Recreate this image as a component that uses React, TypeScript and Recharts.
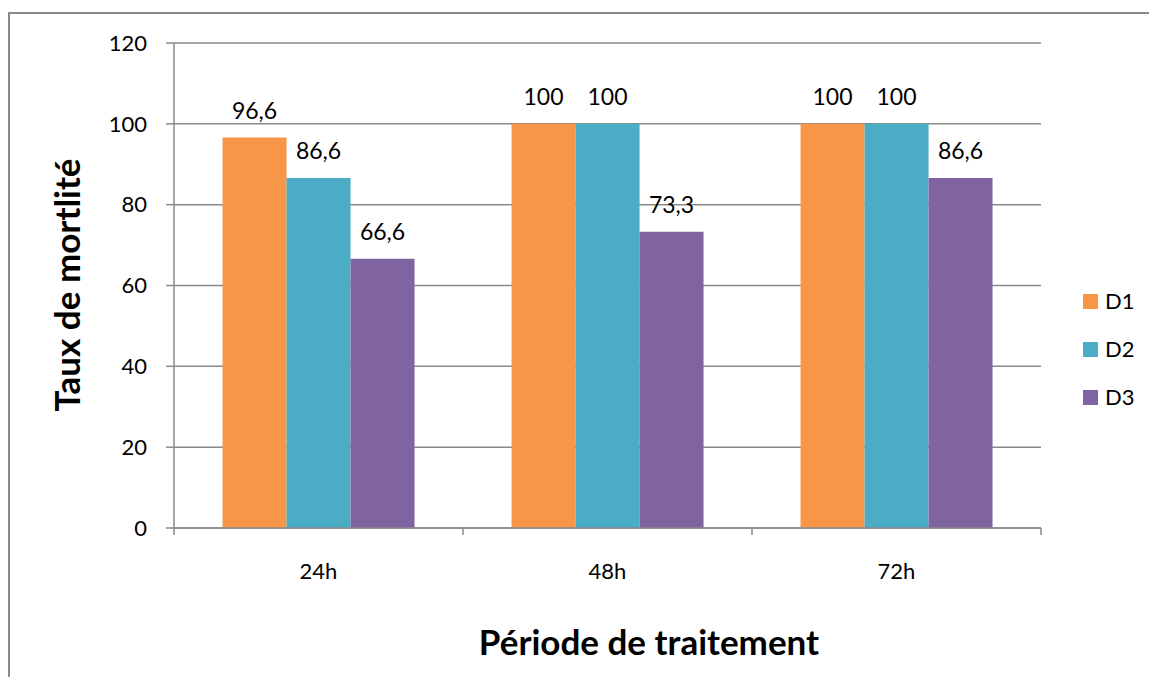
import React from 'react';
import { BarChart, Bar, XAxis, YAxis, CartesianGrid, Legend, LabelList, Label } from 'recharts';

// Treatment periods and mortality rate (%) per dose
const periods = ['24h', '48h', '72h'];
const d1Values = [96.6, 100, 100];
const d2Values = [86.6, 100, 100];
const d3Values = [66.6, 73.3, 86.6];
const yTicks = [0, 20, 40, 60, 80, 100, 120];

const seriesKeys = ['D1', 'D2', 'D3'];
const seriesColors = ['#F79646', '#4BACC6', '#8064A2'];

const data = periods.map((period, i) => ({
  period,
  D1: d1Values[i],
  D2: d2Values[i],
  D3: d3Values[i],
}));

const FONT = "Lato, 'Open Sans', sans-serif";
const AXIS_GRAY = '#8a8a8a';
const X_TICK_MARGIN = 34;

const formatValue = (v: any) => String(v).replace('.', ',');

// Category tick: label centred under the group, tick marks on the group boundaries
function CategoryTick(props: any) {
  const { x, y, payload, width, visibleTicksCount, index } = props;
  const count = visibleTicksCount || periods.length;
  const half = typeof width === 'number' ? width / count / 2 : 0;
  const axisY = y - X_TICK_MARGIN;
  return (
    <g>
      <line x1={x - half} x2={x - half} y1={axisY} y2={axisY + 7} stroke={AXIS_GRAY} strokeWidth={1.5} />
      {index === count - 1 && (
        <line x1={x + half} x2={x + half} y1={axisY} y2={axisY + 7} stroke={AXIS_GRAY} strokeWidth={1.5} />
      )}
      <text x={x} y={axisY + 51} textAnchor="middle" fontSize={22} fontFamily={FONT} fill="#000">
        {payload.value}
      </text>
    </g>
  );
}

function LegendContent(props: any) {
  const items = props.payload || [];
  return (
    <div style={{ fontFamily: FONT }}>
      {items.map((item: any) => (
        <div key={item.value} style={{ display: 'flex', alignItems: 'center', height: 48 }}>
          <span style={{ display: 'inline-block', width: 15, height: 15, background: item.color, marginRight: 7 }} />
          <span style={{ fontSize: 22, lineHeight: '22px', color: '#000' }}>{item.value}</span>
        </div>
      ))}
    </div>
  );
}

export default function App() {
  return (
    <div
      style={{
        position: 'fixed',
        left: 0,
        top: 0,
        width: 1149,
        height: 677,
        overflow: 'hidden',
        background: '#fff',
        fontFamily: FONT,
      }}
    >
      <div
        style={{
          position: 'absolute',
          left: 8,
          top: 12,
          width: 1200,
          height: 720,
          border: `2px solid ${AXIS_GRAY}`,
        }}
      />
      <div style={{ position: 'absolute', left: 0, top: 0 }}>
        <BarChart
          width={1149}
          height={677}
          data={data}
          margin={{ top: 43, right: 108, bottom: 0, left: 0 }}
          barCategoryGap="16.8%"
          barGap={0}
        >
          <CartesianGrid horizontal vertical={false} stroke={AXIS_GRAY} strokeWidth={1.5} />
          <XAxis
            dataKey="period"
            height={149}
            axisLine={{ stroke: AXIS_GRAY, strokeWidth: 1.5 }}
            tickLine={false}
            tickSize={0}
            tickMargin={X_TICK_MARGIN}
            tick={<CategoryTick />}
            interval={0}
          >
            <Label
              content={() => (
                <text x={649} y={655} textAnchor="middle" fontSize={35} fontWeight="bold" fontFamily={FONT} fill="#000">
                  Période de traitement
                </text>
              )}
            />
          </XAxis>
          <YAxis
            width={174}
            domain={[0, 120]}
            ticks={yTicks}
            interval={0}
            axisLine={{ stroke: AXIS_GRAY, strokeWidth: 1.5 }}
            tickLine={{ stroke: AXIS_GRAY, strokeWidth: 1.5 }}
            tickSize={8}
            tickMargin={19}
            tick={{ fontSize: 22, fill: '#000', fontFamily: FONT }}
          >
            <Label
              content={() => (
                <text
                  x={80}
                  y={285}
                  transform="rotate(-90 80 285)"
                  textAnchor="middle"
                  fontSize={35}
                  fontWeight="bold"
                  fontFamily={FONT}
                  fill="#000"
                >
                  Taux de mortlité
                </text>
              )}
            />
          </YAxis>
          <Legend
            layout="vertical"
            align="center"
            verticalAlign="middle"
            content={<LegendContent />}
            wrapperStyle={{ left: 1083, top: 277, width: 'auto' }}
          />
          {seriesKeys.map((key, i) => (
            <Bar key={key} dataKey={key} name={key} fill={seriesColors[i]} isAnimationActive={false}>
              <LabelList
                dataKey={key}
                position="top"
                offset={19}
                formatter={formatValue}
                fontSize={23}
                fontFamily={FONT}
                fill="#000"
              />
            </Bar>
          ))}
        </BarChart>
      </div>
    </div>
  );
}
